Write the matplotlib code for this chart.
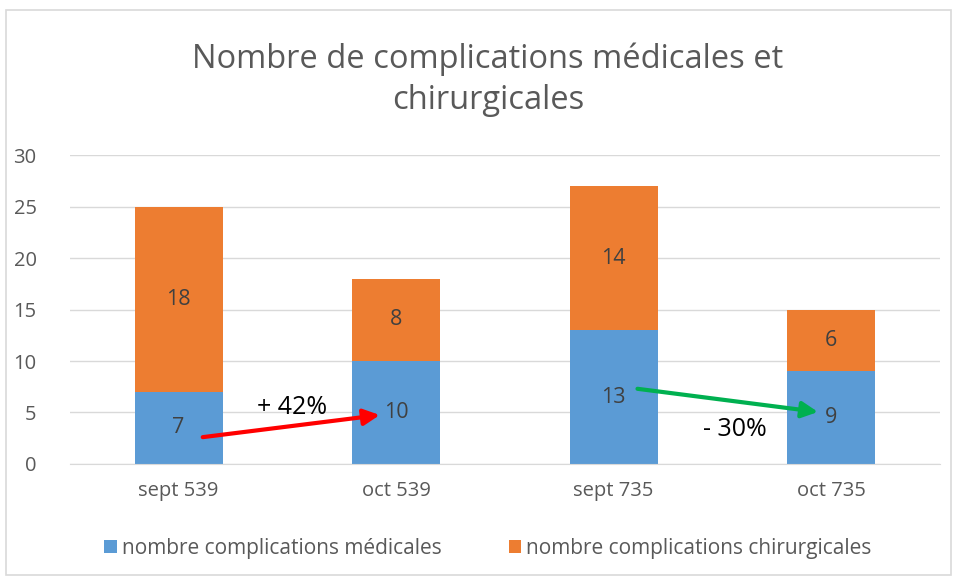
import matplotlib as mpl
mpl.use('Agg')
import matplotlib.pyplot as plt
from matplotlib.patches import Rectangle

categories = ['sept 539', 'oct 539', 'sept 735', 'oct 735']
medicales = [7, 10, 13, 9]
chirurgicales = [18, 8, 14, 6]

plt.rcParams['font.family'] = ['Open Sans', 'DejaVu Sans']

fig = plt.figure(figsize=(9.57, 5.77), dpi=100)
ax = fig.add_axes([0.073, 0.196, 0.909, 0.535])

blue = '#5B9BD5'
orange = '#ED7D31'
x = range(len(categories))
b1 = ax.bar(x, medicales, width=0.405, color=blue, label='nombre complications médicales', zorder=2)
b2 = ax.bar(x, chirurgicales, width=0.405, bottom=medicales, color=orange,
            label='nombre complications chirurgicales', zorder=2)

# labels in the middle of each segment
for i in x:
    ax.text(i, medicales[i] / 2, str(medicales[i]), ha='center', va='center',
            fontsize=15.5, color='#404040', zorder=3)
    ax.text(i, medicales[i] + chirurgicales[i] / 2, str(chirurgicales[i]),
            ha='center', va='center', fontsize=15.5, color='#404040', zorder=3)

ax.set_xlim(-0.5, 3.5)
ax.set_ylim(0, 30)
ax.set_yticks(range(0, 31, 5))
ax.set_xticks(list(x))
ax.set_xticklabels(categories)
ax.yaxis.grid(True, color='#D9D9D9', linewidth=1, zorder=0)
for s in ['top', 'right', 'left']:
    ax.spines[s].set_visible(False)
ax.spines['bottom'].set_color('#D9D9D9')
ax.tick_params(axis='both', length=0, labelsize=14.5, colors='#595959', pad=12)
ax.tick_params(axis='y', pad=24)

# arrows
ax.annotate('', xy=(0.925, 4.75), xytext=(0.111, 2.6),
            arrowprops=dict(arrowstyle='-|>', color='#FF0000', lw=3, mutation_scale=24,
                            shrinkA=0, shrinkB=0), zorder=4)
ax.text(0.52, 5.5, '+ 42%', ha='center', va='center', fontsize=18, color='black', zorder=4)
ax.annotate('', xy=(2.94, 5.05), xytext=(2.11, 7.3),
            arrowprops=dict(arrowstyle='-|>', color='#00B050', lw=3, mutation_scale=24,
                            shrinkA=0, shrinkB=0), zorder=4)
ax.text(2.56, 3.3, '- 30%', ha='center', va='center', fontsize=18, color='black', zorder=4)

fig.text(0.51, 0.862, 'Nombre de complications médicales et\nchirurgicales', ha='center',
         va='center', fontsize=23.5, color='#595959', linespacing=1.35)

fig.legend(handles=[b1, b2], loc='center', bbox_to_anchor=(0.51, 0.05), ncol=2, frameon=False,
           fontsize=15, labelcolor='#595959', handlelength=0.6, handleheight=0.6,
           handletextpad=0.25, columnspacing=3.2)

# chart border
fig.patches.append(Rectangle((0.006, 0.003), 0.988, 0.98, transform=fig.transFigure,
                             fill=False, edgecolor='#D9D9D9', linewidth=1.2))

fig.savefig('out.png', dpi=100)
